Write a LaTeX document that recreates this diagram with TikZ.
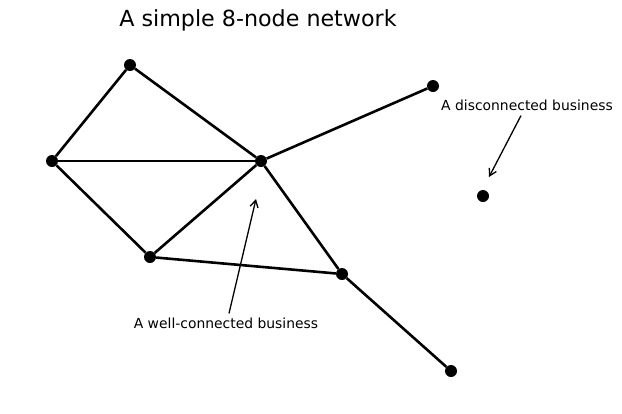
\documentclass[tikz,border=0pt]{standalone}
\usepackage{fontspec}
\setmainfont{DejaVu Sans}
\usetikzlibrary{arrows.meta}
\begin{document}
\begin{tikzpicture}
            [x = 1pt, y = -1pt,
             point/.style = {circle, fill, inner sep = 0pt, minimum size = 12pt},
             link/.style = {line width = 2.6pt},
             note/.style = {font = \fontsize{13.9}{16}\selectfont, inner sep = 0pt},
             pointer/.style = {-{Straight Barb[length = 7pt, width = 8pt]}, line width = 1.3pt}]
            \useasboundingbox (0,0) rectangle (622,413);
            \node[font = \fontsize{22.2}{26}\selectfont] (title) at (258,20) {A simple 8-node network};
            \node[point] (1) at (130,65) {};
            \node[point] (2) at (52,161) {};
            \node[point] (3) at (261,161) {};
            \node[point] (4) at (433,86) {};
            \node[point] (5) at (483,196) {};
            \node[point] (6) at (150,257) {};
            \node[point] (7) at (342,274) {};
            \node[point] (8) at (451,371) {};
            \draw[link] (1) -- (2);
            \draw[link] (1) -- (3);
            \draw[link] (2) -- (3);
            \draw[link] (2) -- (6);
            \draw[link] (6) -- (3);
            \draw[link] (3) -- (4);
            \draw[link] (3) -- (7);
            \draw[link] (6) -- (7);
            \draw[link] (7) -- (8);
            \node[note] (lonely) at (527,105) {A disconnected business};
            \coordinate (lonelytip) at (489,177);
            \draw[pointer] (lonely.south) ++(-6,5) -- (lonelytip);
            \node[note] (hub) at (226,323) {A well-connected business};
            \coordinate (hubtip) at (256,199);
            \draw[pointer] (hub.north) ++(3,-4) -- (hubtip);
        \end{tikzpicture}
\end{document}
